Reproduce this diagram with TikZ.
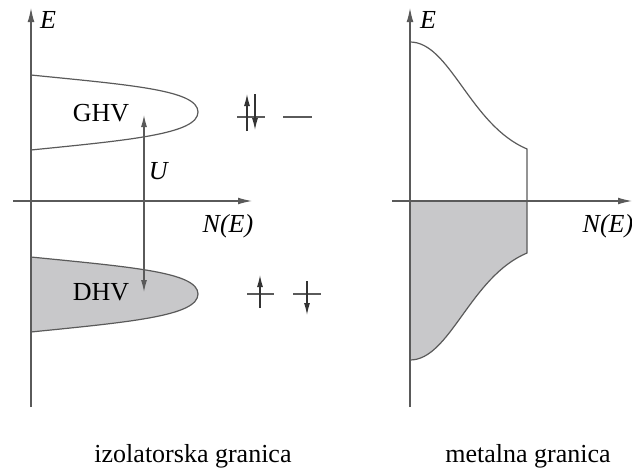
\documentclass[tikz,border=0pt]{standalone}
\usepackage{fontspec}
\setmainfont{Liberation Serif}
\usetikzlibrary{arrows.meta}
\definecolor{linegray}{HTML}{5A5A5A}
\definecolor{bandgray}{HTML}{C8C8CA}
\tikzset{
  axis/.style={draw=linegray, line width=0.6pt, -{Latex[length=7pt, width=3.4pt]}},
  curve/.style={draw=linegray, line width=0.6pt},
  spin/.style={draw=black!80, line width=0.6pt, -{Latex[length=6pt, width=3pt]}},
  lbl/.style={font=\fontsize{13}{15}\selectfont, inner sep=0pt},
}
\begin{document}
\begin{tikzpicture}[x=0.5pt, y=-0.5pt]
  \useasboundingbox (0,0) rectangle (632,471);
  % pixel grid: x to the right, y down

  % 1. left panel: insulating limit
  \def\tipx{198}
  % lower band (filled)
  \filldraw[curve, fill=bandgray] (31,257) .. controls (130,267) and (\tipx,272) .. (\tipx,294)
    .. controls (\tipx,316) and (130,322) .. (31,332) -- cycle;
  % upper band
  \draw[curve] (31,75) .. controls (130,85) and (\tipx,90) .. (\tipx,112)
    .. controls (\tipx,134) and (130,140) .. (31,150);
  % axes
  \draw[axis] (13,201) -- (252,201);
  \draw[axis] (31,407) -- (31,8);
  \node[lbl] (eleft) at (48,20) {\textit{E}};
  \node[lbl] (nleft) at (228,226) {\textit{N(E)}};
  \node[lbl] (ghv) at (101,113) {GHV};
  \node[lbl] (dhv) at (101,292) {DHV};

  % 2. Hubbard gap U
  \coordinate (utop) at (144,115);
  \coordinate (ubot) at (144,292);
  \draw[curve, {Latex[length=6pt, width=3pt]}-{Latex[length=6pt, width=3pt]}] (ubot) -- (utop);
  \node[lbl] (ulabel) at (159,171) {\textit{U}};

  % 3. spins
  \draw[curve] (237,117) -- (265,117);
  \draw[spin] (247,131) -- (247,94);
  \draw[spin] (255,94) -- (255,130);
  \draw[curve] (283,117) -- (312,117);
  \draw[curve] (247,294) -- (274,294);
  \draw[spin] (260,308) -- (260,275);
  \draw[curve] (293,294) -- (321,294);
  \draw[spin] (307,281) -- (307,315);

  % 4. right panel: metallic limit
  \fill[bandgray] (410,201) -- (527,201) -- (527,253)
    .. controls (470,277) and (450,360) .. (410,360) -- cycle;
  \draw[curve] (410,42) .. controls (450,42) and (470,125) .. (527,149) -- (527,253)
    .. controls (470,277) and (450,360) .. (410,360);
  \draw[axis] (392,201) -- (632,201);
  \draw[axis] (410,407) -- (410,8);
  \node[lbl] (eright) at (428,20) {\textit{E}};
  \node[lbl] (nright) at (608,226) {\textit{N(E)}};

  % 5. captions
  \node[lbl, anchor=base] (capleft) at (193,462) {izolatorska granica};
  \node[lbl, anchor=base] (capright) at (528,462) {metalna granica};
\end{tikzpicture}
\end{document}
